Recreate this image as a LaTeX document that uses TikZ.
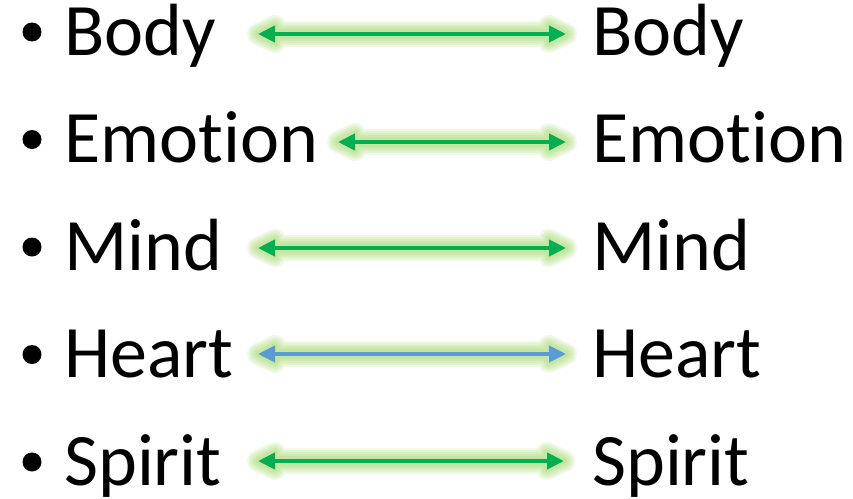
\documentclass[tikz,border=0pt]{standalone}
\usepackage{fontspec}
\setmainfont[Ligatures={NoCommon}]{Carlito}
\usetikzlibrary{arrows.meta,calc}
\definecolor{arrowgreen}{RGB}{0,176,80}
\definecolor{arrowblue}{RGB}{91,155,213}
\definecolor{glowgreen}{RGB}{146,208,80}
\tikzset{
  word/.style={anchor=base west, inner sep=0pt, font=\fontsize{74}{74}\selectfont},
  bulletdot/.style={fill=black, draw=none},
  linkarrow/.style={line width=4pt, {Triangle[length=17pt,width=16pt]}-{Triangle[length=17pt,width=16pt]}},
  glowlayer/.style={draw=glowgreen, line width=#1, opacity=0.14, line join=round, line cap=round},
}
% soft halo around a double-headed horizontal arrow from #1 to #2
\newcommand{\arrowhalo}[2]{%
  \foreach \w in {22pt,18pt,14pt,10pt,6pt}{%
    \draw[glowlayer=\w] (#1) -- ($(#1)+(17,-8)$) -- ($(#1)+(17,-2)$) -- ($(#2)+(-17,-2)$)
      -- ($(#2)+(-17,-8)$) -- (#2) -- ($(#2)+(-17,8)$) -- ($(#2)+(-17,2)$)
      -- ($(#1)+(17,2)$) -- ($(#1)+(17,8)$) -- cycle;
  }%
}
\begin{document}
\begin{tikzpicture}[x=1pt,y=-1pt]
\useasboundingbox (0,0) rectangle (853,498);

% left column
\node[word] (lbody)    at (64,55)    {Body};
\node[word] (lemotion) at (64,162.5) {Emotion};
\node[word] (lmind)    at (64,270)   {Mind};
\node[word] (lheart)   at (64,377.5) {Heart};
\node[word] (lspirit)  at (64,485)   {Spirit};

% right column
\node[word] (rbody)    at (592,55)    {Body};
\node[word] (remotion) at (592,162.5) {Emotion};
\node[word] (rmind)    at (592,270)   {Mind};
\node[word] (rheart)   at (592,377.5) {Heart};
\node[word] (rspirit)  at (592,485)   {Spirit};

% bullets
\foreach \y in {32,139.5,247,354.5,462}{
  \fill[bulletdot] (32,\y) circle (9.5);
}

% arrow end points
\coordinate (a1) at (258,34);   \coordinate (b1) at (566,34);
\coordinate (a2) at (338,142);  \coordinate (b2) at (566,142);
\coordinate (a3) at (258,248);  \coordinate (b3) at (566,248);
\coordinate (a4) at (258,354);  \coordinate (b4) at (566,354);
\coordinate (a5) at (258,461);  \coordinate (b5) at (564,461);

\arrowhalo{a1}{b1}
\arrowhalo{a2}{b2}
\arrowhalo{a3}{b3}
\arrowhalo{a4}{b4}
\arrowhalo{a5}{b5}

\draw[linkarrow, arrowgreen] (a1) -- (b1);
\draw[linkarrow, arrowgreen] (a2) -- (b2);
\draw[linkarrow, arrowgreen] (a3) -- (b3);
\draw[linkarrow, arrowblue]  (a4) -- (b4);
\draw[linkarrow, arrowgreen] (a5) -- (b5);
\end{tikzpicture}
\end{document}
